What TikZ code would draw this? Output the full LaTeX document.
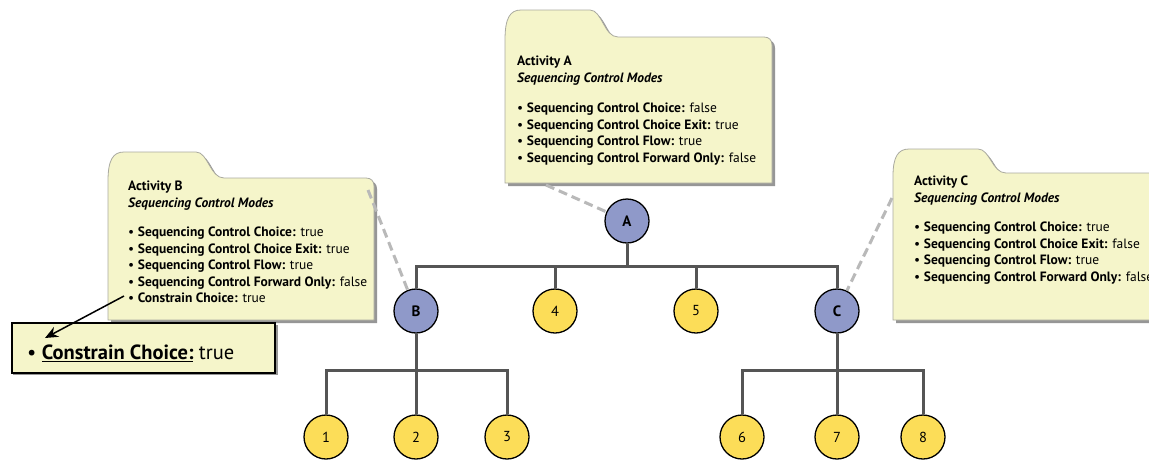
\documentclass[tikz,border=0pt]{standalone}
\usepackage{fontspec}
\setmainfont{PT Sans}
\usetikzlibrary{arrows.meta}
\definecolor{boxfill}{RGB}{245,245,202}
\definecolor{nodeblue}{RGB}{143,153,201}
\definecolor{nodeyellow}{RGB}{252,221,88}
\definecolor{linegray}{RGB}{85,85,85}
\definecolor{dashgray}{RGB}{185,185,185}
\definecolor{shadowgray}{RGB}{150,150,150}
\definecolor{edgegray}{RGB}{170,170,160}
% folder outline: x0 x1 tabtop bodytop bottom tabwidth
\newcommand\folderoutline[6]{%
  \fill[shadowgray,shift={(3,3)}] (#1,#5) -- (#1,#4+3) .. controls (#1,#3+8) and (#1+5,#3) .. (#1+16,#3) -- (#1+#6-20,#3) .. controls (#1+#6-8,#3) and (#1+#6-6,#4) .. (#1+#6+8,#4) -- (#2-8,#4) .. controls (#2-3,#4) and (#2,#4+3) .. (#2,#4+8) -- (#2,#5) -- cycle;
  \filldraw[fill=boxfill,draw=edgegray,line width=0.8pt] (#1,#5) -- (#1,#4+3) .. controls (#1,#3+8) and (#1+5,#3) .. (#1+16,#3) -- (#1+#6-20,#3) .. controls (#1+#6-8,#3) and (#1+#6-6,#4) .. (#1+#6+8,#4) -- (#2-8,#4) .. controls (#2-3,#4) and (#2,#4+3) .. (#2,#4+8) -- (#2,#5) -- cycle;}
\tikzset{
  boxtext/.style={anchor=north west,inner sep=0pt,align=left,font=\fontsize{13.5}{16.5}\selectfont},
  actnode/.style={circle,draw=black,line width=1.3pt,fill=nodeblue,minimum size=44pt,inner sep=0pt,font=\fontsize{15}{15}\selectfont\bfseries},
  leafnode/.style={circle,draw=black,line width=1.3pt,fill=nodeyellow,minimum size=44pt,inner sep=0pt,font=\fontsize{14.5}{14.5}\selectfont},
  treeline/.style={draw=linegray,line width=3pt},
  notelink/.style={draw=dashgray,line width=3pt,dash pattern=on 9pt off 5pt},
  callout/.style={draw=black,line width=1.5pt,-{Stealth[length=13pt,width=11pt]}}
}
\begin{document}
\begin{tikzpicture}[x=1pt,y=-1pt]
\useasboundingbox (0,0) rectangle (1149,459);
\fill[white] (0,0) rectangle (1149,459);

% folders
\folderoutline{505}{772}{10}{37}{183}{105}
\folderoutline{108}{374}{152}{178}{320}{108}
\folderoutline{893}{1170}{149}{173}{320}{105}

\node[boxtext] (textA) at (517,56) {\textbf{Activity A}\\
\textbf{\textit{Sequencing Control Modes}}\\[14pt]
\textbullet\ \textbf{Sequencing Control Choice:} false\\
\textbullet\ \textbf{Sequencing Control Choice Exit:} true\\
\textbullet\ \textbf{Sequencing Control Flow:} true\\
\textbullet\ \textbf{Sequencing Control Forward Only:} false};

\node[boxtext] (textB) at (128,181) {\textbf{Activity B}\\
\textbf{\textit{Sequencing Control Modes}}\\[13pt]
\textbullet\ \textbf{Sequencing Control Choice:} true\\
\textbullet\ \textbf{Sequencing Control Choice Exit:} true\\
\textbullet\ \textbf{Sequencing Control Flow:} true\\
\textbullet\ \textbf{Sequencing Control Forward Only:} false\\
\textbullet\ \textbf{Constrain Choice:} true};

\node[boxtext] (textC) at (914,176) {\textbf{Activity C}\\
\textbf{\textit{Sequencing Control Modes}}\\[13pt]
\textbullet\ \textbf{Sequencing Control Choice:} true\\
\textbullet\ \textbf{Sequencing Control Choice Exit:} false\\
\textbullet\ \textbf{Sequencing Control Flow:} true\\
\textbullet\ \textbf{Sequencing Control Forward Only:} false};

% zoom box
\fill[shadowgray] (13,325) rectangle (278,375);
\node[draw=black,line width=2pt,fill=boxfill,minimum width=263pt,minimum height=50pt,anchor=north west,inner sep=0pt] (zoombox) at (11,322) {};
\node[anchor=west,inner sep=0pt,font=\fontsize{20.5}{22}\selectfont] (zoomtext) at (27,353) {\textbullet\ \underline{\textbf{Constrain Choice:}} true};

% tree nodes
\node[actnode] (A) at (627,221) {A};
\node[actnode] (B) at (416,311) {B};
\node[leafnode] (n4) at (555,311) {4};
\node[leafnode] (n5) at (696,311) {5};
\node[actnode] (C) at (837,311) {C};
\node[leafnode] (n1) at (326,437) {1};
\node[leafnode] (n2) at (416,437) {2};
\node[leafnode] (n3) at (507,437) {3};
\node[leafnode] (n6) at (742,437) {6};
\node[leafnode] (n7) at (837,437) {7};
\node[leafnode] (n8) at (923,437) {8};

\coordinate (jA) at (627,266);
\coordinate (jB) at (416,370);
\coordinate (jC) at (837,370);

\draw[treeline] (A) -- (jA);
\draw[treeline] (jA) -| (B);
\draw[treeline] (jA) -| (C);
\draw[treeline] (jA) -| (n4);
\draw[treeline] (jA) -| (n5);
\draw[treeline] (B) -- (n2);
\draw[treeline] (jB) -| (n1);
\draw[treeline] (jB) -| (n3);
\draw[treeline] (C) -- (n7);
\draw[treeline] (jC) -| (n6);
\draw[treeline] (jC) -| (n8);

% note links
\coordinate (noteA) at (546,185);
\coordinate (noteB) at (368,190);
\coordinate (noteC) at (892,198);
\draw[notelink] (noteA) -- (A);
\draw[notelink] (noteB) -- (B);
\draw[notelink] (noteC) -- (C);

% callout arrow
\coordinate (cbStart) at (124,296);
\coordinate (cbTip) at (45,338);
\draw[callout] (cbStart) -- (cbTip);
\end{tikzpicture}
\end{document}
